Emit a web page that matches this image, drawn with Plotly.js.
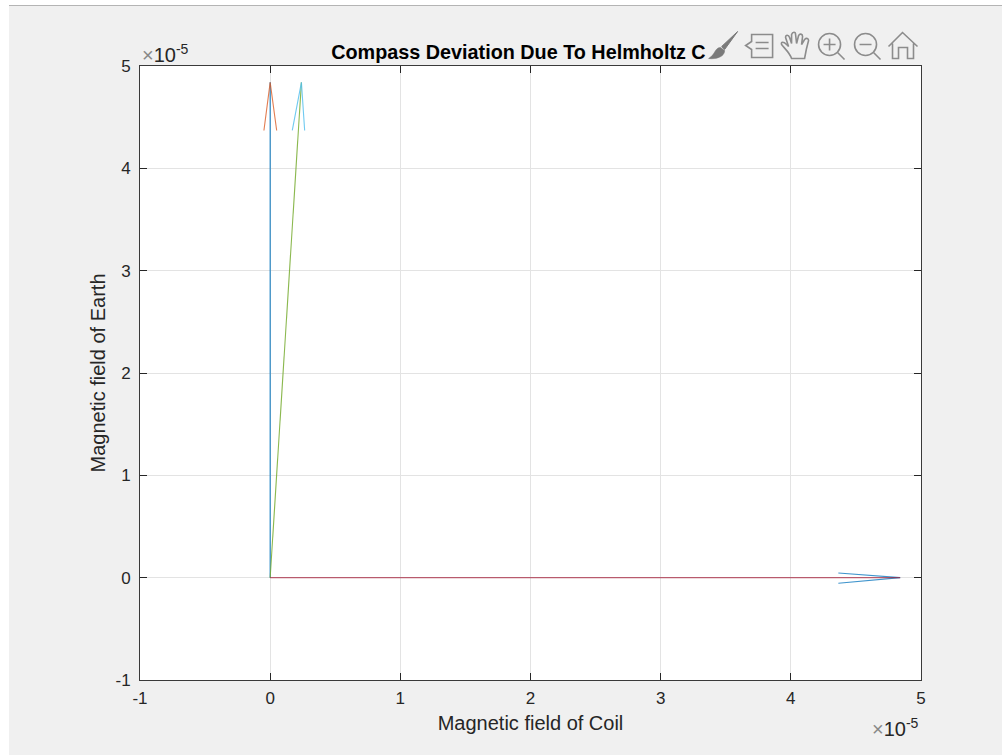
<!DOCTYPE html>
<html>
<head>
<meta charset="utf-8">
<script src="https://cdn.plot.ly/plotly-3.0.1.min.js"></script>
<style>
html,body{margin:0;padding:0;background:#fff;width:1002px;height:755px;overflow:hidden}
#topline{position:absolute;left:9px;top:5px;width:993px;height:1px;background:#b4b4b4}
#g{position:absolute;left:9px;top:6px;width:993px;height:749px}
</style>
</head>
<body>
<div id="topline"></div>
<div id="g"></div>
<script>
const tickValues = [-1e-5, 0, 1e-5, 2e-5, 3e-5, 4e-5, 5e-5];
const tickLabels = ['-1', '0', '1', '2', '3', '4', '5'];

const earthShaftX = [0, 0];
const earthShaftY = [0, 4.84e-5];
const earthHeadX = [-0.048e-5, 0, 0.05e-5];
const earthHeadY = [4.37e-5, 4.84e-5, 4.37e-5];

const resultShaftX = [0, 0.24e-5];
const resultShaftY = [0, 4.84e-5];
const resultHeadX = [0.17e-5, 0.24e-5, 0.265e-5];
const resultHeadY = [4.37e-5, 4.84e-5, 4.37e-5];

const coilShaftX = [0, 4.84e-5];
const coilShaftY = [0, 0];
const coilHeadX = [4.365e-5, 4.84e-5, 4.365e-5];
const coilHeadY = [0.045e-5, 0, -0.055e-5];

const BLUE = '#0072BD', ORANGE = '#D95319', GREEN = '#77AC30', CYAN = '#4DBEEE', RED = '#A2142F';
const FONT = 'Liberation Sans, Arial, Helvetica, sans-serif';

function line(x, y, color, opacity) {
  return {x: x, y: y, mode: 'lines', type: 'scatter', opacity: opacity, line: {color: color, width: 1.1}, hoverinfo: 'skip', showlegend: false};
}

const traces = [
  line(earthShaftX, earthShaftY, BLUE, 0.9),
  line(earthHeadX, earthHeadY, ORANGE, 0.75),
  line(resultShaftX, resultShaftY, GREEN, 0.85),
  line(resultHeadX, resultHeadY, CYAN, 0.8),
  line(coilHeadX, coilHeadY, BLUE, 0.75),
  line(coilShaftX, coilShaftY, RED, 0.65)
];

function axis(titleText, standoff, labelStandoff) {
  return {
    range: [-1e-5, 5e-5], tickmode: 'array', tickvals: tickValues, ticktext: tickLabels,
    ticks: 'inside', ticklen: 7, tickwidth: 1, tickcolor: '#262626',
    showline: true, mirror: 'ticks', linecolor: '#3a3a3a', linewidth: 1,
    showgrid: true, gridcolor: '#e3e3e3', gridwidth: 1,
    zeroline: true, zerolinecolor: '#e3e3e3', zerolinewidth: 1,
    tickfont: {family: FONT, size: 17, color: '#262626'},
    ticklabelstandoff: labelStandoff,
    title: {text: titleText, font: {family: FONT, size: 20, color: '#262626'}, standoff: standoff},
    automargin: false
  };
}

const S = '#8c8c8c';
const toolbarSvg = `<svg xmlns="http://www.w3.org/2000/svg" width="220" height="34" viewBox="705 28 220 34">
<g fill="none" stroke="${S}" stroke-width="1.6">
<path d="M738 31 L722 46 L725 49 Z" fill="#7a7a7a" stroke="#7a7a7a" stroke-width="1"/>
<path d="M721 47 C715 47 716 54 709 58 C717 59 725 56 725 50 Z" fill="#7a7a7a" stroke="#7a7a7a" stroke-width="0.6"/>
<path d="M752 34 H773 V57 H752 V49 L746 45 L752 41 Z"/>
<path d="M756 42 H769 M756 48 H769"/>
<path d="M792 58 C790 52 785 48 782 44 C781 41 784 41 787 44 L789 46 L786 37 C786 34 789 34 790 37 L792 43 L792 34 C793 31 796 31 796 34 L797 43 L799 35 C800 33 803 33 803 36 L802 44 L805 39 C807 37 809 38 809 40 C807 47 806 52 805 58 Z"/>
<circle cx="830" cy="44" r="11"/><path d="M838 52 L845 59 M824 44 H836 M830 38 V50"/>
<circle cx="866" cy="44" r="11"/><path d="M874 52 L881 59 M860 44 H872"/>
<path d="M889 46 L903 32 L918 46 M893 43 V58 H899 V47 H908 V58 H914 V43"/>
</g></svg>`;
const toolbarUri = 'data:image/svg+xml;charset=utf-8,' + encodeURIComponent(toolbarSvg);

const layout = {
  width: 993, height: 749,
  margin: {l: 131, r: 80.5, t: 59.5, b: 75, pad: 0},
  paper_bgcolor: '#f0f0f0', plot_bgcolor: '#ffffff',
  showlegend: false,
  title: {
    text: '<b>Compass Deviation Due To Helmholtz C</b>',
    font: {family: FONT, size: 19.8, color: '#000'},
    xref: 'container', x: 0.3245, xanchor: 'left',
    yref: 'container', y: 0.9385, yanchor: 'middle'
  },
  xaxis: axis('Magnetic field of Coil', 8, 3),
  yaxis: axis('Magnetic field of Earth', 4, 5),
  annotations: [
    {xref: 'paper', yref: 'paper', x: 0, y: 1, xanchor: 'left', yanchor: 'bottom', yshift: -2, showarrow: false,
     text: '<span style="color:#888">×</span>10<sup>-5</sup>', font: {family: FONT, size: 20, color: '#262626'}},
    {xref: 'paper', yref: 'paper', x: 1, y: 0, xanchor: 'right', yanchor: 'top', yshift: -33, showarrow: false,
     text: '<span style="color:#888">×</span>10<sup>-5</sup>', font: {family: FONT, size: 20, color: '#262626'}}
  ],
  images: [{
    source: toolbarUri, layer: 'above', xref: 'paper', yref: 'paper',
    x: (705 - 140) / 781.5, y: (680 - 28) / 614.5, sizex: 220 / 781.5, sizey: 34 / 614.5,
    xanchor: 'left', yanchor: 'top', sizing: 'stretch'
  }]
};

Plotly.newPlot('g', traces, layout, {displayModeBar: false, responsive: false});
</script>
</body>
</html>
